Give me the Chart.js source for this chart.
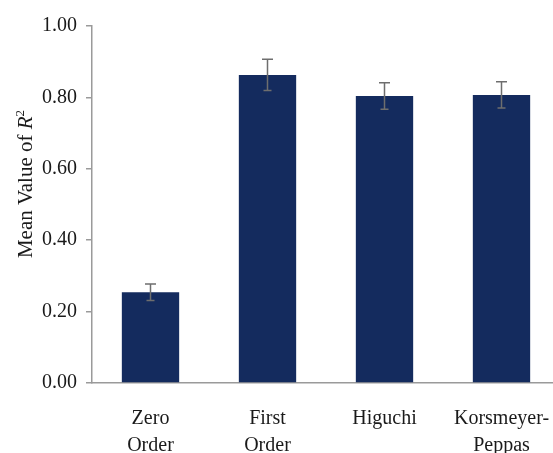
<!DOCTYPE html>
<html>
<head>
<meta charset="utf-8">
<script src="https://cdn.jsdelivr.net/npm/chart.js@4.4.1/dist/chart.umd.min.js"></script>
<style>
  html, body { margin: 0; padding: 0; background: #ffffff; overflow: hidden; }
  #wrap { width: 560px; height: 453px; }
</style>
</head>
<body>
<div id="wrap"><canvas id="chart" width="560" height="453"></canvas></div>
<script>
// Kinetic models and their mean coefficient of determination
const categories = [["Zero", "Order"], ["First", "Order"], ["Higuchi"], ["Korsmeyer-", "Peppas"]];
const meanR2 = [0.254, 0.863, 0.804, 0.807];
const errR2 = [0.023, 0.044, 0.037, 0.037];
const yTicks = [0.00, 0.20, 0.40, 0.60, 0.80, 1.00];

const serif = "'Liberation Serif', 'DejaVu Serif', serif";
const textColor = "#1a1a1a";

// Error bars: vertical whisker with a cap at each end
const errorBars = {
  id: "errorBars",
  afterDatasetsDraw(chart) {
    const { ctx } = chart;
    const meta = chart.getDatasetMeta(0);
    const y = chart.scales.y;
    ctx.save();
    ctx.strokeStyle = "#6e6e6e";
    ctx.lineWidth = 1.5;
    meta.data.forEach((bar, i) => {
      const x = bar.x;
      const yTop = y.getPixelForValue(meanR2[i] + errR2[i]);
      const yLow = y.getPixelForValue(meanR2[i] - errR2[i]);
      ctx.beginPath();
      ctx.moveTo(x, yLow);
      ctx.lineTo(x, yTop);
      ctx.moveTo(x - 5.5, yTop);
      ctx.lineTo(x + 5.5, yTop);
      ctx.moveTo(x - 4, yLow);
      ctx.lineTo(x + 4, yLow);
      ctx.stroke();
    });
    ctx.restore();
  }
};

// Y-axis title with an italic R and superscript 2
const yTitle = {
  id: "yTitle",
  afterDraw(chart) {
    const { ctx } = chart;
    const size = 21;
    const parts = [
      { t: "Mean Value of ", f: `${size}px ${serif}`, dy: 0 },
      { t: "R", f: `italic ${size}px ${serif}`, dy: 0 },
      { t: "2", f: `${Math.round(size * 0.62)}px ${serif}`, dy: -size * 0.38 }
    ];
    let total = 0;
    parts.forEach(p => { ctx.font = p.f; p.w = ctx.measureText(p.t).width; total += p.w; });
    ctx.save();
    ctx.translate(32, 184);
    ctx.rotate(-Math.PI / 2);
    ctx.fillStyle = textColor;
    ctx.textBaseline = "alphabetic";
    ctx.textAlign = "left";
    let x = -total / 2;
    parts.forEach(p => {
      ctx.font = p.f;
      ctx.fillText(p.t, x, p.dy);
      x += p.w;
    });
    ctx.restore();
  }
};

new Chart(document.getElementById("chart"), {
  type: "bar",
  data: {
    labels: categories,
    datasets: [{
      data: meanR2,
      backgroundColor: "#142b5e",
      borderWidth: 0,
      barPercentage: 0.49,
      categoryPercentage: 1.0
    }]
  },
  options: {
    responsive: false,
    animation: false,
    layout: { padding: { top: 26, right: 0, left: 0, bottom: 0 } },
    plugins: { legend: { display: false }, tooltip: { enabled: false } },
    scales: {
      x: {
        grid: { display: false, drawTicks: false },
        border: { display: true, color: "#9a9a9a", width: 1.5 },
        ticks: {
          color: textColor,
          font: { family: serif, size: 20, lineHeight: 1.35 },
          padding: 22,
          maxRotation: 0,
          autoSkip: false
        },
        afterFit(scale) {
          scale.height = 70;
          scale.paddingLeft = 0;
          scale.paddingRight = 0;
        }
      },
      y: {
        min: 0,
        max: 1,
        afterBuildTicks(scale) { scale.ticks = yTicks.map(v => ({ value: v })); },
        grid: { drawOnChartArea: false, drawTicks: true, tickLength: 6, color: "#9a9a9a", lineWidth: 1.5 },
        border: { display: true, color: "#9a9a9a", width: 1.5 },
        ticks: {
          color: textColor,
          font: { family: serif, size: 20 },
          padding: 9,
          callback: v => Number(v).toFixed(2)
        },
        afterFit(scale) { scale.width = 92; }
      }
    }
  },
  plugins: [errorBars, yTitle]
});
</script>
</body>
</html>
